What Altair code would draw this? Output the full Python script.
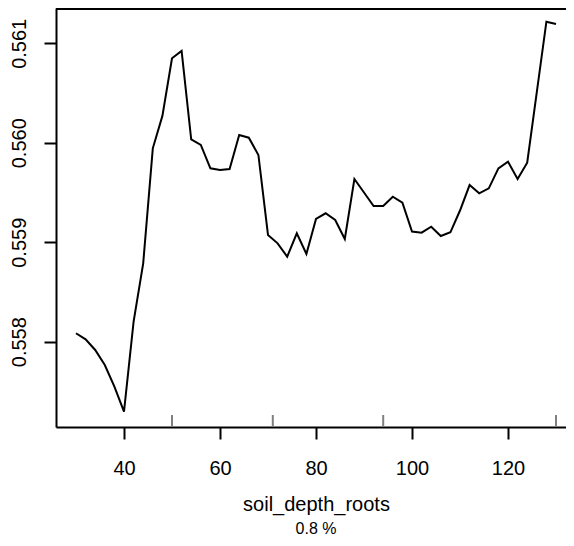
import altair as alt
import pandas as pd

depth = [30, 32, 34, 36, 38, 40, 42, 44, 46, 48, 50, 52, 54, 56, 58, 60, 62, 64, 66, 68,
         70, 72, 74, 76, 78, 80, 82, 84, 86, 88, 90, 92, 94, 96, 98, 100, 102, 104, 106, 108,
         110, 112, 114, 116, 118, 120, 122, 124, 126, 128, 130]
pred = [0.558085, 0.558024, 0.557917, 0.557766, 0.557548, 0.557296, 0.558201, 0.558788,
        0.559944, 0.560270, 0.560849, 0.560923, 0.560035, 0.559978, 0.559743, 0.559726,
        0.559736, 0.560078, 0.560051, 0.559877, 0.559073, 0.558989, 0.558855, 0.559090,
        0.558882, 0.559234, 0.559291, 0.559224, 0.559033, 0.559636, 0.559500, 0.559364,
        0.559364, 0.559458, 0.559397, 0.559108, 0.559096, 0.559156, 0.559063, 0.559100,
        0.559319, 0.559575, 0.559492, 0.559542, 0.559743, 0.559810, 0.559636, 0.559800,
        0.560508, 0.561217, 0.561194]
rug = [50, 71, 94, 130]
x_ticks = [40, 60, 80, 100, 120]
y_ticks = [0.558, 0.559, 0.560, 0.561]
x_title = "soil_depth_roots"
sub_title = "0.8 %"

W, H = 510, 419
FONT = "Liberation Sans"

line_df = pd.DataFrame({"x": depth, "y": pred})
rug_df = pd.DataFrame({"x": rug})

xscale = alt.Scale(domain=[25.833, 132.083], nice=False, zero=False)
yscale = alt.Scale(domain=[0.5571425, 0.5613548], nice=False, zero=False)

xaxis = alt.Axis(values=x_ticks, title=x_title, grid=False, tickSize=12, tickWidth=2,
                 tickColor="black", domainColor="black", domainWidth=2,
                 labelFont=FONT, labelFontSize=20, labelColor="black",
                 labelBaseline="alphabetic", labelPadding=35,
                 titleFont=FONT, titleFontSize=20, titleFontWeight="normal",
                 titleColor="black", titleBaseline="alphabetic", titleY=83.7,
                 titleX=260, titleAlign="center")
yaxis = alt.Axis(values=y_ticks, format=".3f", title=None, grid=False, tickSize=12,
                 tickWidth=2, tickColor="black", domainColor="black", domainWidth=2,
                 labelFont=FONT, labelFontSize=20, labelColor="black",
                 labelAngle=-90, labelAlign="center", labelBaseline="alphabetic",
                 labelPadding=19)

line = alt.Chart(line_df).mark_line(color="black", strokeWidth=2).encode(
    x=alt.X("x:Q", scale=xscale, axis=xaxis),
    y=alt.Y("y:Q", scale=yscale, axis=yaxis),
)

rug_layer = alt.Chart(rug_df).mark_rule(color="#808080", strokeWidth=2).encode(
    x=alt.X("x:Q", scale=xscale, axis=xaxis),
    y=alt.value(H - 12),
    y2=alt.value(H),
)

top_border = alt.Chart(pd.DataFrame({"a": [0]})).mark_rule(color="black", strokeWidth=2).encode(
    x=alt.value(0), x2=alt.value(W), y=alt.value(1)
)

sub = alt.Chart(pd.DataFrame({"t": [sub_title]})).mark_text(
    font=FONT, fontSize=16, color="black", baseline="alphabetic", align="center"
).encode(text="t:N", x=alt.value(260), y=alt.value(526))

chart = alt.layer(line, rug_layer, top_border, sub).properties(
    width=W, height=H,
    autosize=alt.AutoSizeParams(type="none"),
    padding={"left": 48, "top": 0, "right": 0, "bottom": 111},
).configure_view(stroke=None).configure(background="white")

chart.save("out.html", embed_options={"renderer": "svg", "actions": False})
